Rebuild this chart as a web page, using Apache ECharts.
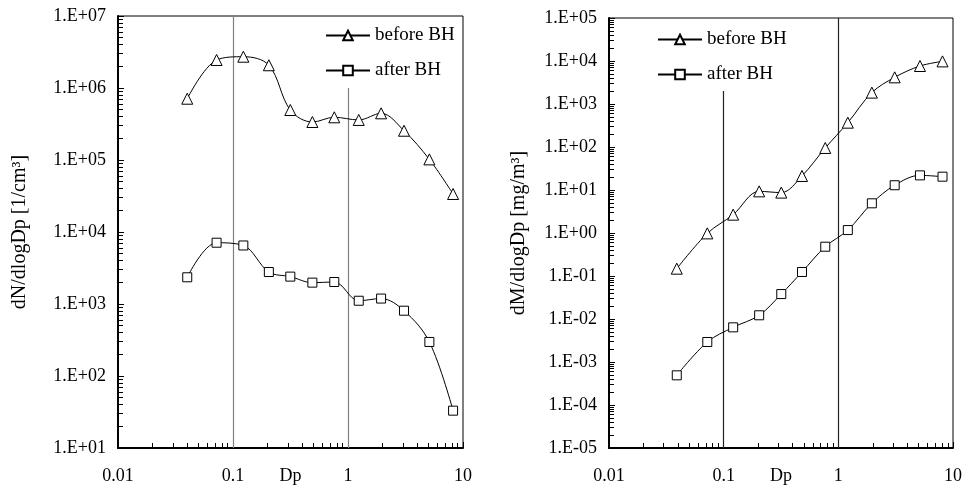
<!DOCTYPE html>
<html>
<head>
<meta charset="utf-8">
<script src="https://cdn.jsdelivr.net/npm/echarts@6/dist/echarts.min.js"></script>
<style>
  html, body { margin: 0; padding: 0; background: #fff; }
  #chart { width: 963px; height: 489px; }
</style>
</head>
<body>
<div id="chart"></div>
<script>
// particle diameter Dp (um) for each panel
var dpLeft = [0.040, 0.072, 0.123, 0.205, 0.315, 0.49, 0.76, 1.24, 1.94, 3.07, 5.1, 8.2]
var dpRight = [0.039, 0.072, 0.121, 0.204, 0.318, 0.482, 0.769, 1.21, 1.96, 3.1, 5.15, 8.1]

// number distribution dN/dlogDp [1/cm3]
var numBefore = [7.1e5, 2.45e6, 2.72e6, 2.07e6, 4.95e5, 3.37e5, 3.92e5, 3.6e5, 4.45e5, 2.55e5, 1.02e5, 3.37e4]
var numAfter = [2.35e3, 7.1e3, 6.5e3, 2.78e3, 2.4e3, 1.98e3, 2.02e3, 1.11e3, 1.19e3, 807, 297, 33]

// mass distribution dM/dlogDp [mg/m3]
var massBefore = [0.148, 0.98, 2.67, 9.3, 8.7, 21.2, 95, 368, 1840, 4170, 7650, 9800]
var massAfter = [4.9e-4, 2.92e-3, 6.4e-3, 1.22e-2, 3.8e-2, 0.124, 0.48, 1.17, 4.9, 12.9, 21.9, 20.4]

var seriesNames = ['before BH', 'after BH']

function pad2(n) { return n < 10 ? '0' + n : '' + n }
function sciLabel(v) {
  var e = Math.round(Math.log10(v))
  return '1.E' + (e < 0 ? '-' : '+') + pad2(Math.abs(e))
}
function plainLabel(v) { return String(parseFloat(v.toPrecision(3))) }

var font = 'Liberation Serif, Times New Roman, serif'
var minor = { show: true, splitNumber: 9, length: 5, lineStyle: { color: '#000', width: 1 } }

function xAxisFor(grid) {
  return {
    type: 'log', logBase: 10, gridIndex: grid, min: 0.01, max: 10, interval: 1,
    name: 'Dp', nameLocation: 'middle', nameGap: 19, nameMoveOverlap: false,
    nameTextStyle: { fontFamily: font, fontSize: 18, color: '#000' },
    axisLine: { lineStyle: { color: '#000', width: 2 } },
    axisTick: { inside: true, length: 6, lineStyle: { color: '#000' } },
    minorTick: minor,
    axisLabel: { formatter: plainLabel, margin: 19, fontFamily: font, fontSize: 18, color: '#000' },
    splitLine: { show: false }
  }
}

function yAxisFor(grid, lo, hi, name, gap) {
  return {
    type: 'log', logBase: 10, gridIndex: grid, min: Math.pow(10, lo), max: Math.pow(10, hi),
    interval: 1,
    name: name, nameLocation: 'middle', nameGap: gap, nameMoveOverlap: false,
    nameTextStyle: { fontFamily: font, fontSize: 20, color: '#000' },
    axisLine: { lineStyle: { color: '#000', width: 2 } },
    axisTick: { inside: true, length: 6, lineStyle: { color: '#000' } },
    minorTick: minor,
    axisLabel: { formatter: sciLabel, margin: 12, fontFamily: font, fontSize: 18, color: '#000' },
    splitLine: { show: false }
  }
}

function curve(name, idx, xs, ys, symbol, size, lines) {
  var s = {
    name: name, type: 'line', xAxisIndex: idx, yAxisIndex: idx,
    data: xs.map(function (x, i) { return [x, ys[i]] }),
    smooth: 0.35,
    symbol: symbol, symbolSize: size, showAllSymbol: true,
    lineStyle: { color: '#000', width: 1 },
    itemStyle: { color: '#fff', borderColor: '#000', borderWidth: 1 },
    z: 5
  }
  if (lines) {
    s.markLine = {
      silent: true, symbol: 'none', label: { show: false },
      lineStyle: { type: 'solid', width: 1.2, color: lines.color },
      data: lines.data
    }
  }
  return s
}

var legendText = { fontFamily: font, fontSize: 19, color: '#000' }

var chart = echarts.init(document.getElementById('chart'))
chart.setOption({
  animation: false,
  backgroundColor: '#fff',
  grid: [
    { left: 118, right: 500, top: 16, bottom: 41, show: true, borderColor: '#000', borderWidth: 1,
      containLabel: false, outerBoundsMode: 'none' },
    { left: 609, right: 10, top: 18, bottom: 41, show: true, borderColor: '#000', borderWidth: 1,
      containLabel: false, outerBoundsMode: 'none' }
  ],
  legend: [
    {
      data: seriesNames, orient: 'vertical', left: 325, top: 26, padding: 0,
      itemWidth: 44, itemHeight: 12, itemGap: 16,
      textStyle: legendText, selectedMode: false
    },
    {
      data: seriesNames.map(function (n) { return n + ' ' }), orient: 'vertical', left: 657, top: 30, padding: 0,
      itemWidth: 44, itemHeight: 12, itemGap: 16,
      textStyle: legendText, selectedMode: false
    }
  ],
  xAxis: [xAxisFor(0), xAxisFor(1)],
  yAxis: [
    yAxisFor(0, 1, 7, 'dN/dlogDp [1/cm³]', 88),
    yAxisFor(1, -5, 5, 'dM/dlogDp [mg/m³]', 80)
  ],
  series: [
    curve(seriesNames[0], 0, dpLeft, numBefore, 'triangle', 11, {
      color: '#808080',
      data: [
        [{ coord: [0.1, 1e7] }, { coord: [0.1, 1e1] }],
        [{ coord: [1, 1e6] }, { coord: [1, 1e1] }]
      ]
    }),
    curve(seriesNames[1], 0, dpLeft, numAfter, 'rect', 9),
    curve(seriesNames[0] + ' ', 1, dpRight, massBefore, 'triangle', 11, {
      color: '#222',
      data: [
        [{ coord: [0.1, 2e3] }, { coord: [0.1, 1e-5] }],
        [{ coord: [1, 1e5] }, { coord: [1, 1e-5] }]
      ]
    }),
    curve(seriesNames[1] + ' ', 1, dpRight, massAfter, 'rect', 9)
  ]
})
</script>
</body>
</html>
